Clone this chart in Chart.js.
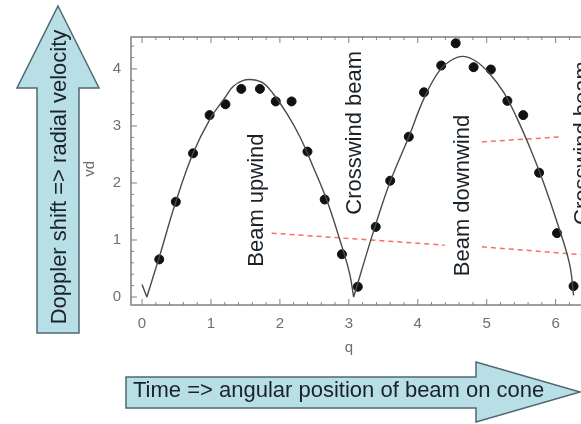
<!DOCTYPE html>
<html>
<head>
<meta charset="utf-8">
<script src="https://cdn.jsdelivr.net/npm/chart.js@4"></script>
<style>
  html, body { margin: 0; padding: 0; background: #fff; overflow: hidden; }
  #wrap { width: 620px; height: 424px; }
</style>
</head>
<body>
<div id="wrap"><canvas id="dopplerChart" width="620" height="424"></canvas></div>
<script>
// measured Doppler shift (dots) vs beam angle
const obsX = [0.25, 0.49, 0.74, 0.98, 1.21, 1.44, 1.71, 1.94, 2.17, 2.40, 2.65, 2.90,
              3.13, 3.39, 3.60, 3.87, 4.09, 4.34, 4.55, 4.81, 5.06, 5.30, 5.53, 5.76, 6.02, 6.26];
const obsY = [0.66, 1.67, 2.52, 3.19, 3.38, 3.65, 3.65, 3.43, 3.43, 2.55, 1.71, 0.75,
              0.18, 1.23, 2.04, 2.81, 3.59, 4.06, 4.45, 4.03, 3.99, 3.44, 3.19, 2.18, 1.12, 0.19];

// fitted curve; null splits it at the sharp zero crossings
const fitX = [0.0, 0.07, null, 0.07, 0.25, 0.49, 0.74, 0.99, 1.20, 1.32, 1.47, 1.61, 1.76, 1.90,
              2.10, 2.29, 2.48, 2.68, 2.87, 3.01, 3.07, null, 3.07, 3.35, 3.59, 3.86, 4.10, 4.32,
              4.51, 4.66, 4.85, 5.04, 5.24, 5.43, 5.62, 5.82, 6.01, 6.20, 6.26];
const fitY = [0.22, 0.0, null, 0.0, 0.70, 1.67, 2.52, 3.13, 3.49, 3.69, 3.80, 3.81, 3.75, 3.57,
              3.22, 2.81, 2.29, 1.70, 1.00, 0.42, 0.0, null, 0.0, 1.12, 1.99, 2.78, 3.51, 3.98,
              4.17, 4.22, 4.13, 3.92, 3.60, 3.16, 2.64, 2.02, 1.35, 0.59, 0.03];

// red dashed guide lines (null = gap behind label)
const lowX = [1.88, 4.39, null, 4.93, 6.40];
const lowY = [1.12, 0.91, null, 0.88, 0.74];
const highX = [4.93, 6.09];
const highY = [2.72, 2.81];

const xTicks = [0, 1, 2, 3, 4, 5, 6];
const yTicks = [0, 1, 2, 3, 4];
const minorStep = 0.2;

const notes = [
  { text: 'Beam upwind', x: 1.66, y: 1.70 },
  { text: 'Crosswind beam', x: 3.09, y: 2.88 },
  { text: 'Beam downwind', x: 4.66, y: 1.78 },
  { text: 'Crosswind beam', x: 6.39, y: 2.70 }
];

const zip = (xs, ys) => xs.map((x, i) => (x === null ? { x: NaN, y: null } : { x, y: ys[i] }));

const TEXT = '#1a2229';
const AXIS = '#808080';
const ARROW_FILL = '#b9dfe6';
const ARROW_LINE = '#506872';
const FONT = '22px "Liberation Sans", Arial, sans-serif';

function arrowPath(ctx, pts) {
  ctx.beginPath();
  pts.forEach(([px, py], i) => (i ? ctx.lineTo(px, py) : ctx.moveTo(px, py)));
  ctx.closePath();
  ctx.fillStyle = ARROW_FILL;
  ctx.fill();
  ctx.lineWidth = 1.5;
  ctx.strokeStyle = ARROW_LINE;
  ctx.stroke();
}

const framePlugin = {
  id: 'frame',
  beforeDatasetsDraw(chart) {
    const { ctx, chartArea: a, scales: { x, y } } = chart;
    ctx.save();
    ctx.strokeStyle = AXIS;
    ctx.lineWidth = 1.5;
    ctx.strokeRect(a.left, a.top, a.right - a.left, a.bottom - a.top);

    ctx.lineWidth = 1;
    for (let v = 0; v <= x.max + 1e-6; v += minorStep) {
      const major = Math.abs(v - Math.round(v)) < 1e-6;
      const len = major ? 6 : 3;
      const px = x.getPixelForValue(v);
      ctx.beginPath();
      ctx.moveTo(px, a.bottom); ctx.lineTo(px, a.bottom - len);
      ctx.moveTo(px, a.top); ctx.lineTo(px, a.top + len);
      ctx.stroke();
    }
    for (let v = 0; v <= y.max + 1e-6; v += minorStep) {
      const major = Math.abs(v - Math.round(v)) < 1e-6;
      const len = major ? 6 : 3;
      const py = y.getPixelForValue(v);
      ctx.beginPath();
      ctx.moveTo(a.left, py); ctx.lineTo(a.left + len, py);
      ctx.moveTo(a.right, py); ctx.lineTo(a.right - len, py);
      ctx.stroke();
    }

    ctx.fillStyle = '#6e6e6e';
    ctx.font = '15px "Liberation Sans", Arial, sans-serif';
    ctx.textAlign = 'center';
    ctx.textBaseline = 'middle';
    xTicks.forEach(v => ctx.fillText(String(v), x.getPixelForValue(v), a.bottom + 19));
    ctx.textAlign = 'right';
    yTicks.forEach(v => ctx.fillText(String(v), a.left - 10, y.getPixelForValue(v)));

    // axis titles
    ctx.textAlign = 'center';
    ctx.fillText('q', x.getPixelForValue(3), a.bottom + 43);
    ctx.save();
    ctx.translate(a.left - 41, y.getPixelForValue(2.25));
    ctx.rotate(-Math.PI / 2);
    ctx.fillText('vd', 0, 0);
    ctx.restore();
    ctx.restore();
  },
  afterDatasetsDraw(chart) {
    const { ctx, scales: { x, y } } = chart;
    ctx.save();
    ctx.fillStyle = TEXT;
    ctx.font = FONT;
    ctx.textAlign = 'center';
    ctx.textBaseline = 'middle';
    notes.forEach(n => {
      ctx.save();
      ctx.translate(x.getPixelForValue(n.x), y.getPixelForValue(n.y));
      ctx.rotate(-Math.PI / 2);
      ctx.fillText(n.text, 0, 0);
      ctx.restore();
    });

    // big explanatory arrows
    arrowPath(ctx, [[58, 6], [99, 88], [79, 88], [79, 333], [37, 333], [37, 88], [17, 88]]);
    arrowPath(ctx, [[126, 377], [476, 377], [476, 362], [580, 392], [476, 422], [476, 408], [126, 408]]);

    ctx.fillStyle = TEXT;
    ctx.font = FONT;
    ctx.save();
    ctx.translate(60, 177);
    ctx.rotate(-Math.PI / 2);
    ctx.fillText('Doppler shift => radial velocity', 0, 0);
    ctx.restore();
    ctx.textAlign = 'left';
    ctx.fillText('Time => angular position of beam on cone', 133, 391);
    ctx.restore();
  }
};

new Chart(document.getElementById('dopplerChart'), {
  type: 'scatter',
  data: {
    datasets: [
      { data: zip(fitX, fitY), showLine: true, spanGaps: false, pointRadius: 0, borderColor: '#4a4a4a',
        borderWidth: 1.4, tension: 0.4 },
      { data: zip(lowX, lowY), showLine: true, spanGaps: false, pointRadius: 0, borderColor: '#ff6a6a',
        borderWidth: 1.5, borderDash: [5, 4] },
      { data: zip(highX, highY), showLine: true, pointRadius: 0, borderColor: '#ff6a6a',
        borderWidth: 1.5, borderDash: [5, 4] },
      { data: zip(obsX, obsY), pointRadius: 4.5, pointBackgroundColor: '#111', pointBorderColor: '#111' }
    ]
  },
  options: {
    responsive: false,
    animation: false,
    devicePixelRatio: 1,
    layout: { padding: { left: 131, top: 37, right: 23, bottom: 119 } },
    plugins: { legend: { display: false }, tooltip: { enabled: false } },
    scales: {
      x: { type: 'linear', min: -0.16, max: 6.6, display: false },
      y: { type: 'linear', min: -0.14, max: 4.56, display: false }
    }
  },
  plugins: [framePlugin]
});
</script>
</body>
</html>
